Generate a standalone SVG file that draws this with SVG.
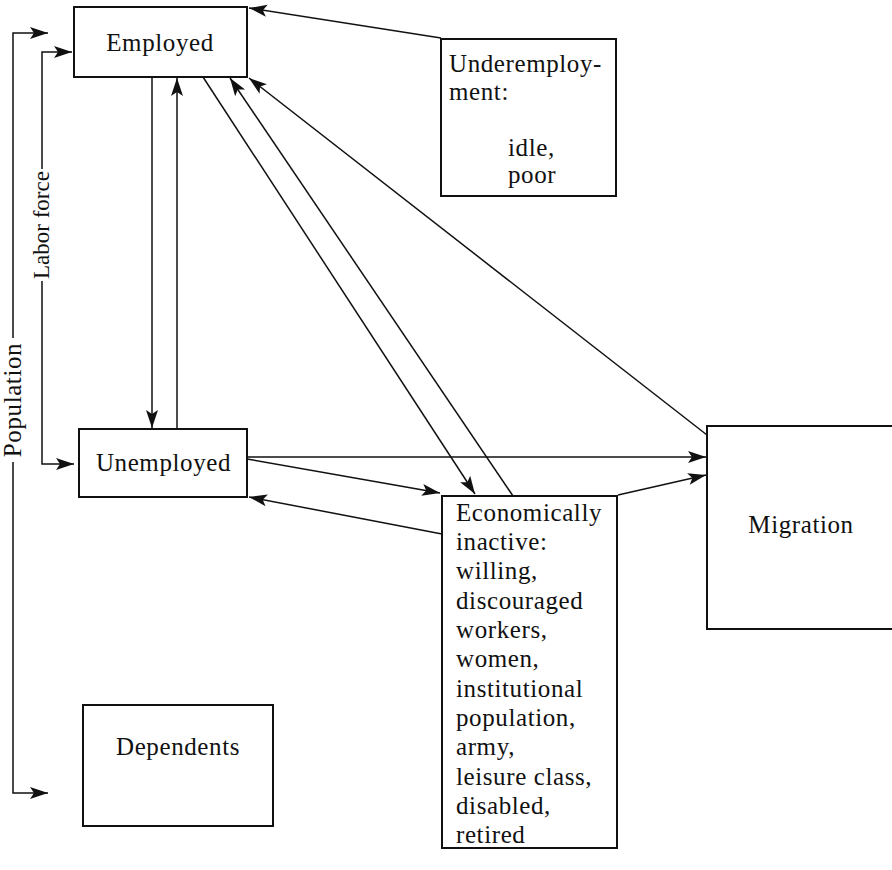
<svg xmlns="http://www.w3.org/2000/svg" width="892" height="870" viewBox="0 0 892 870">
<style>
.box{fill:#fff;stroke:#111;stroke-width:2}
.t{font-family:"Liberation Serif","Times New Roman",serif;font-size:25px;fill:#111;letter-spacing:0.6px}
.m{text-anchor:middle}
.c{fill:none;stroke:#111;stroke-width:1.5}
</style>
<defs>
<marker id="ah" markerUnits="userSpaceOnUse" markerWidth="22" markerHeight="14" viewBox="-20 -7 22 14" refX="0" refY="0" orient="auto">
<path d="M0,0 L-18,-6 L-14,0 L-18,6 Z" fill="#111"/>
</marker>
</defs>
<rect width="892" height="870" fill="#fff"/>
<g id="connectors">
<path class="c" d="M441,38 L249,8" marker-end="url(#ah)"/>
<path class="c" d="M152,77 V428" marker-end="url(#ah)"/>
<path class="c" d="M177,429 V78" marker-end="url(#ah)"/>
<path class="c" d="M203,77 L475,494" marker-end="url(#ah)"/>
<path class="c" d="M513,496 L230,78" marker-end="url(#ah)"/>
<path class="c" d="M707,435 L249,78" marker-end="url(#ah)"/>
<path class="c" d="M247,457 H706" marker-end="url(#ah)"/>
<path class="c" d="M247,459 L440,493" marker-end="url(#ah)"/>
<path class="c" d="M442,534 L249,497" marker-end="url(#ah)"/>
<path class="c" d="M618,495 L706,475" marker-end="url(#ah)"/>
<path class="c" d="M13,338 V33 H48" marker-end="url(#ah)"/>
<path class="c" d="M13,462 V793 H48" marker-end="url(#ah)"/>
<path class="c" d="M42,169 V52 H72" marker-end="url(#ah)"/>
<path class="c" d="M42,281 V464 H74" marker-end="url(#ah)"/>
</g>
<g id="population-label"><text class="t m" transform="translate(21,400) rotate(-90)">Population</text></g>
<g id="laborforce-label"><text class="t m" style="font-size:23px;letter-spacing:0" transform="translate(49,225) rotate(-90)">Labor force</text></g>
<g id="employed"><rect class="box" x="74" y="7" width="173" height="70"/><text class="t m" x="160" y="51">Employed</text></g>
<g id="underemployment"><rect class="box" x="441" y="39" width="175" height="157"/>
<text class="t" x="449" y="72">Underemploy-</text>
<text class="t" x="449" y="100">ment:</text>
<text class="t" x="508" y="156">idle,</text>
<text class="t" x="508" y="183">poor</text></g>
<g id="unemployed"><rect class="box" x="79" y="429" width="168" height="68"/><text class="t m" x="163.5" y="471">Unemployed</text></g>
<g id="inactive"><rect class="box" x="442" y="496" width="175" height="352"/>
<text class="t" x="456" y="521">Economically</text>
<text class="t" x="456" y="550">inactive:</text>
<text class="t" x="456" y="579">willing,</text>
<text class="t" x="456" y="609">discouraged</text>
<text class="t" x="456" y="638">workers,</text>
<text class="t" x="456" y="667">women,</text>
<text class="t" x="456" y="697">institutional</text>
<text class="t" x="456" y="726">population,</text>
<text class="t" x="456" y="755">army,</text>
<text class="t" x="456" y="785">leisure class,</text>
<text class="t" x="456" y="814">disabled,</text>
<text class="t" x="456" y="843">retired</text></g>
<g id="migration"><rect class="box" x="707" y="426" width="195" height="203"/><text class="t m" x="801" y="533">Migration</text></g>
<g id="dependents"><rect class="box" x="83" y="705" width="190" height="121"/><text class="t m" x="178" y="755">Dependents</text></g>
</svg>
